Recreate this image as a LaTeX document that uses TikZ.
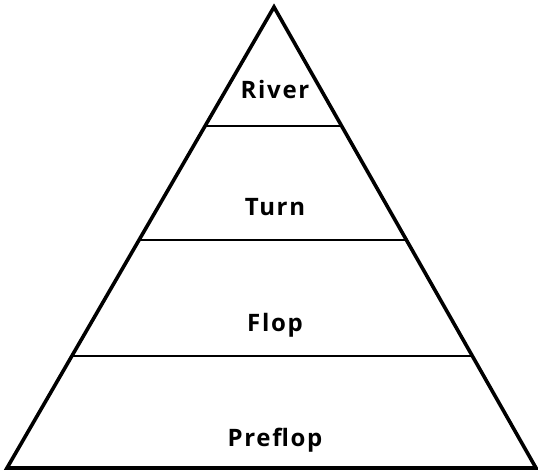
\documentclass[tikz,border=0pt]{standalone}
\usepackage{fontspec}
\setmainfont{Open Sans}
\usetikzlibrary{calc}

\begin{document}
\begin{tikzpicture}[
  x=1pt, y=1pt,
  lbl/.style={font=\bfseries\fontsize{24}{28}\selectfont\addfontfeature{LetterSpace=7}, inner sep=0pt, anchor=base},
  edge/.style={line width=3.6pt, line join=miter},
  tier/.style={line width=2.6pt}
]
\useasboundingbox (0,0) rectangle (538,473);
\coordinate (L) at (7,5);
\coordinate (R) at (536,5);
\coordinate (A) at (274,466);
% tier boundaries on the two sides
\coordinate (l1) at ($(L)!0.243!(A)$);  \coordinate (r1) at ($(R)!0.243!(A)$);
\coordinate (l2) at ($(L)!0.4946!(A)$); \coordinate (r2) at ($(R)!0.4946!(A)$);
\coordinate (l3) at ($(L)!0.742!(A)$);  \coordinate (r3) at ($(R)!0.742!(A)$);
\draw[tier] (l1)--(r1); \draw[tier] (l2)--(r2); \draw[tier] (l3)--(r3);
\draw[edge] (L)--(A)--(R)--cycle;
\node[lbl] (river) at (275,374) {River};
\node[lbl] (turn) at (275,257) {Turn};
\node[lbl] (flop) at (275,141) {Flop};
\node[lbl] (preflop) at (275,26) {Preflop};
\end{tikzpicture}
\end{document}
